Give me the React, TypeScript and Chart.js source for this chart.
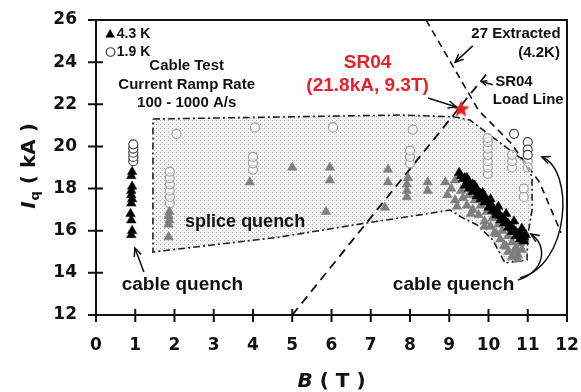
import React, { useEffect, useRef } from 'react';
import { Chart, registerables } from 'chart.js';

Chart.register(...registerables);

// ---------- axis ticks ----------
const xTicks = [0, 1, 2, 3, 4, 5, 6, 7, 8, 9, 10, 11, 12];
const yTicks = [12, 14, 16, 18, 20, 22, 24, 26];

// ---------- 4.3 K (black triangles) ----------
const k43B = [
  0.9, 0.92, 0.9, 0.88, 0.9, 0.92, 0.9, 0.9, 0.92, 0.9, 0.92,
  9.3, 9.35, 9.4, 9.45, 9.5, 9.55, 9.6, 9.65, 9.7, 9.75, 9.8, 9.85, 9.9, 9.95, 10.0, 10.05, 10.1,
  10.15, 10.2, 10.25, 10.3, 10.35, 10.4, 10.45, 10.5, 10.55, 10.6, 10.65, 10.7, 10.75, 10.8, 10.85,
  10.9, 10.95,
  9.4, 9.5, 9.6, 9.7, 9.8, 9.9, 10.0, 10.1, 10.2, 10.3, 10.4, 10.5, 10.6, 10.7, 10.8, 10.9,
  9.25, 9.45, 9.65, 9.85, 10.05, 10.25, 10.45, 10.65, 10.85,
];
const k43I = [
  15.8, 16.0, 16.5, 16.8, 17.3, 17.5, 17.7, 17.9, 18.1, 18.6, 18.8,
  18.6, 18.45, 18.5, 18.3, 18.35, 18.1, 18.2, 17.95, 18.0, 17.8, 17.75, 17.6, 17.65, 17.4, 17.35, 17.2, 17.15,
  17.0, 16.9, 16.85, 16.7, 16.6, 16.55, 16.4, 16.35, 16.2, 16.1, 16.05, 15.95, 15.85, 15.9, 15.75,
  15.7, 15.8,
  18.15, 18.0, 17.85, 17.65, 17.5, 17.35, 17.1, 16.95, 16.75, 16.5, 16.35, 16.15, 15.95, 15.75, 15.6, 15.5,
  18.75, 18.5, 18.15, 17.8, 17.5, 17.15, 16.8, 16.45, 16.1,
];

// ---------- gray triangles ----------
const grayB = [
  1.85, 1.85, 1.87, 1.85, 1.87, 3.92, 5.0, 5.96, 5.96, 5.86, 7.44, 7.44, 7.36, 7.92, 7.92, 7.92, 7.95, 8.45, 8.45,
  8.9, 9.05, 9.15, 8.95, 9.15, 9.3, 9.35, 9.45, 9.5, 9.6, 9.65, 9.75, 9.8, 9.9, 9.95, 10.05, 10.1, 10.15,
  10.25, 10.3, 10.35, 10.4, 10.5, 10.5, 10.6, 10.6, 10.7, 10.75, 10.8, 10.85,
  9.2, 9.55, 9.9, 10.2, 10.45, 10.65, 10.75,
];
const grayI = [
  15.7, 16.3, 16.5, 16.7, 16.9, 18.3, 19.0, 19.0, 18.4, 16.9, 18.9, 18.3, 17.1, 17.6, 17.9, 18.2, 18.5, 17.9, 18.3,
  18.3, 18.0, 18.4, 17.7, 17.45, 17.9, 17.55, 17.2, 17.7, 17.0, 17.45, 16.75, 17.2, 16.45, 16.9, 16.2, 16.6, 15.9,
  16.3, 15.6, 16.0, 15.3, 15.75, 15.0, 15.45, 14.75, 15.2, 14.85, 15.4, 15.1,
  17.15, 16.8, 16.2, 15.85, 15.25, 15.0, 14.65,
];

// ---------- 1.9 K (open circles) ----------
const k19B = [0.95, 0.95, 0.95, 0.95, 0.95, 10.65, 11.0, 11.0, 11.0];
const k19I = [19.3, 19.5, 19.7, 19.9, 20.1, 20.6, 20.2, 19.85, 19.6];
const k19FadedB = [
  1.88, 1.88, 1.88, 1.88, 1.88, 1.88, 2.05, 4.0, 4.0, 4.0, 4.05, 6.04, 8.07, 8.0, 8.0, 8.0,
  9.98, 9.98, 9.98, 9.98, 9.98, 9.98, 9.98, 10.6, 10.6, 10.6, 11.0, 11.0, 10.9, 10.9,
];
const k19FadedI = [
  17.3, 17.6, 17.9, 18.2, 18.5, 18.8, 20.6, 18.9, 19.2, 19.5, 20.9, 20.9, 20.8, 19.2, 19.5, 19.8,
  18.7, 19.0, 19.3, 19.6, 19.9, 20.2, 20.4, 19.0, 19.3, 19.6, 19.3, 19.0, 18.0, 17.6,
];

// ---------- SR04 point ----------
const sr04B = [9.3];
const sr04I = [21.8];

// ---------- splice quench region outline ----------
const regionB = [1.45, 7.75, 9.15, 9.53, 10.88, 11.11, 11.11, 11.01, 10.98, 10.42, 10.11, 9.71, 9.35, 9.02, 8.25, 6.9, 4.69, 1.45, 1.45];
const regionI = [21.3, 21.49, 21.4, 21.25, 19.36, 18.55, 16.98, 15.89, 14.61, 14.47, 15.56, 16.27, 16.6, 16.98, 16.75, 16.37, 15.7, 14.99, 21.3];

// ---------- 27 extracted (4.2K) line ----------
const extractedB = [8.41, 9.75, 10.55, 11.3, 11.85];
const extractedI = [26.0, 21.7, 20.2, 18.3, 15.9];

// ---------- SR04 load line ----------
const loadB = [5.0, 9.99];
const loadI = [12.0, 23.53];

const pts = (bs: number[], is: number[]) => bs.map((b, i) => ({ x: b, y: is[i] }));

const ARIAL = '"Liberation Sans", Arial, sans-serif';
const DEJAVU = '"DejaVu Sans", sans-serif';

function makeStar(): HTMLCanvasElement {
  const c = document.createElement('canvas');
  c.width = 20; c.height = 20;
  const g = c.getContext('2d')!;
  g.beginPath();
  for (let k = 0; k < 10; k++) {
    const r = k % 2 === 0 ? 9 : 3.8;
    const a = -Math.PI / 2 + (k * Math.PI) / 5;
    const px = 10 + r * Math.cos(a);
    const py = 10.8 + r * Math.sin(a);
    if (k === 0) g.moveTo(px, py); else g.lineTo(px, py);
  }
  g.closePath();
  g.fillStyle = '#ee1d25';
  g.fill();
  return c;
}

function makeStipple(): CanvasPattern | string {
  const c = document.createElement('canvas');
  c.width = 4; c.height = 4;
  const g = c.getContext('2d')!;
  g.fillStyle = '#f3f3f3';
  g.fillRect(0, 0, 4, 4);
  g.fillStyle = '#a8a8a8';
  g.fillRect(0, 0, 1, 1);
  g.fillStyle = '#cfcfcf';
  g.fillRect(2, 2, 1, 1);
  const p = g.createPattern(c, 'repeat');
  return p || '#eeeeee';
}

function arrowHead(ctx: CanvasRenderingContext2D, x: number, y: number, ang: number, len = 9, spread = 0.42) {
  ctx.beginPath();
  ctx.moveTo(x - len * Math.cos(ang - spread), y - len * Math.sin(ang - spread));
  ctx.lineTo(x, y);
  ctx.lineTo(x - len * Math.cos(ang + spread), y - len * Math.sin(ang + spread));
  ctx.stroke();
}

const decor = {
  id: 'decor',
  afterDraw(chart: any) {
    const { ctx, chartArea: a, scales } = chart;
    const xs = scales.x, ys = scales.y;
    const X = (b: number) => xs.getPixelForValue(b);
    const Y = (i: number) => ys.getPixelForValue(i);
    ctx.save();

    // frame
    ctx.strokeStyle = '#111';
    ctx.lineWidth = 2;
    ctx.setLineDash([]);
    ctx.strokeRect(a.left, a.top, a.right - a.left, a.bottom - a.top);
    // crossing tick marks
    ctx.beginPath();
    xTicks.forEach((v) => { const p = X(v); ctx.moveTo(p, a.bottom - 6); ctx.lineTo(p, a.bottom + 7); });
    yTicks.forEach((v) => { const p = Y(v); ctx.moveTo(a.left - 8, p); ctx.lineTo(a.left + 7, p); });
    ctx.stroke();

    const txt = (s: string, b: number, i: number, font: string, align: CanvasTextAlign = 'center', color = '#111') => {
      ctx.font = font;
      ctx.fillStyle = color;
      ctx.textAlign = align;
      ctx.textBaseline = 'middle';
      ctx.fillText(s, X(b), Y(i));
    };

    // legend
    const tx = X(0.36), ty = Y(25.34);
    ctx.fillStyle = '#000';
    ctx.beginPath();
    ctx.moveTo(tx, ty - 5); ctx.lineTo(tx + 4.8, ty + 3.6); ctx.lineTo(tx - 4.8, ty + 3.6); ctx.closePath();
    ctx.fill();
    ctx.beginPath();
    ctx.arc(X(0.37), Y(24.48), 4.3, 0, Math.PI * 2);
    ctx.lineWidth = 1.2;
    ctx.strokeStyle = '#444';
    ctx.stroke();
    txt('4.3 K', 0.53, 25.34, `bold 14px ${ARIAL}`, 'left');
    txt('1.9 K', 0.53, 24.48, `bold 14px ${ARIAL}`, 'left');

    // notes
    const f15 = `bold 15px ${ARIAL}`;
    txt('Cable Test', 2.31, 23.82, f15);
    txt('Current Ramp Rate', 2.31, 22.92, f15);
    txt('100 - 1000 A/s', 2.31, 22.06, f15);
    txt('SR04', 6.92, 23.96, `bold 19px ${ARIAL}`, 'center', '#e8202a');
    txt('(21.8kA, 9.3T)', 6.92, 22.89, `bold 19px ${ARIAL}`, 'center', '#e8202a');
    txt('27 Extracted', 10.7, 25.34, f15);
    txt('(4.2K)', 11.82, 24.43, f15, 'right');
    txt('SR04', 10.17, 23.06, f15, 'left');
    txt('Load Line', 10.11, 22.2, f15, 'left');
    txt('splice quench', 2.27, 16.43, `bold 18px ${ARIAL}`, 'left');
    txt('cable quench', 2.2, 13.42, `bold 19px ${ARIAL}`);
    txt('cable quench', 9.11, 13.42, `bold 19px ${ARIAL}`);

    // arrows
    ctx.strokeStyle = '#111';
    ctx.lineWidth = 1.5;
    ctx.setLineDash([]);
    const straight = (b0: number, i0: number, b1: number, i1: number, len = 9) => {
      const x0 = X(b0), y0 = Y(i0), x1 = X(b1), y1 = Y(i1);
      ctx.beginPath(); ctx.moveTo(x0, y0); ctx.lineTo(x1, y1); ctx.stroke();
      arrowHead(ctx, x1, y1, Math.atan2(y1 - y0, x1 - x0), len);
    };
    straight(8.46, 22.3, 9.18, 21.87);
    straight(9.6, 24.77, 9.15, 24.0);
    straight(10.11, 22.93, 9.82, 23.08, 6);
    straight(1.22, 14.04, 0.99, 15.18);
    const curve = (p: number[][]) => {
      const [s, c1, c2, e] = p.map(([b, i]) => [X(b), Y(i)]);
      ctx.beginPath(); ctx.moveTo(s[0], s[1]);
      ctx.bezierCurveTo(c1[0], c1[1], c2[0], c2[1], e[0], e[1]);
      ctx.stroke();
      arrowHead(ctx, e[0], e[1], Math.atan2(e[1] - c2[1], e[0] - c2[0]));
    };
    curve([[10.75, 13.66], [11.44, 14.04], [11.52, 15.32], [11.08, 15.84]]);
    curve([[10.8, 13.76], [12.08, 14.37], [12.2, 18.88], [11.36, 19.5]]);

    // axis titles
    ctx.fillStyle = '#111';
    ctx.textBaseline = 'alphabetic';
    ctx.textAlign = 'left';
    const fI = `italic bold 20px ${DEJAVU}`;
    const fSub = `bold 13px ${DEJAVU}`;
    const fR = `bold 20px ${DEJAVU}`;
    // y title
    ctx.save();
    ctx.translate(35, 166);
    ctx.rotate(-Math.PI / 2);
    ctx.font = fI; const wI = ctx.measureText('I').width;
    ctx.font = fSub; const wq = ctx.measureText('q').width;
    ctx.font = fR; const wr = ctx.measureText(' ( kA )').width;
    let cx = -(wI + wq + 1 + wr) / 2;
    ctx.font = fI; ctx.fillText('I', cx, 0); cx += wI + 1;
    ctx.font = fSub; ctx.fillText('q', cx, 4); cx += wq;
    ctx.font = fR; ctx.fillText(' ( kA )', cx, 0);
    ctx.restore();
    // x title
    ctx.font = fI; const wB = ctx.measureText('B').width;
    ctx.font = fR; const wT = ctx.measureText(' ( T )').width;
    let bx = (a.left + a.right) / 2 - (wB + wT) / 2;
    ctx.font = fI; ctx.fillText('B', bx, 387); bx += wB;
    ctx.font = fR; ctx.fillText(' ( T )', bx, 387);

    ctx.restore();
  },
};

export default function App() {
  const ref = useRef<HTMLCanvasElement | null>(null);
  useEffect(() => {
    document.body.style.margin = '0';
    const canvas = ref.current!;
    const tickFont = { family: DEJAVU, size: 17, weight: 'bold' as const };
    const chart = new Chart(canvas, {
      type: 'scatter',
      data: {
        datasets: [
          {
            type: 'line',
            label: 'splice region',
            data: pts(regionB, regionI),
            borderColor: '#222',
            borderWidth: 1.6,
            borderDash: [7, 3, 2, 3],
            backgroundColor: makeStipple() as any,
            fill: 'shape',
            pointRadius: 0,
            tension: 0,
            order: 10,
          } as any,
          {
            type: 'line',
            label: '27 Extracted',
            data: pts(extractedB, extractedI),
            borderColor: '#111',
            borderWidth: 1.6,
            borderDash: [7, 5],
            pointRadius: 0,
            fill: false,
            tension: 0,
            order: 9,
          } as any,
          {
            type: 'line',
            label: 'SR04 load line',
            data: pts(loadB, loadI),
            borderColor: '#111',
            borderWidth: 1.8,
            borderDash: [9, 6],
            pointRadius: 0,
            fill: false,
            order: 9,
          } as any,
          {
            label: '1.9 K faded',
            data: pts(k19FadedB, k19FadedI),
            pointStyle: 'circle',
            pointRadius: 4.5,
            borderColor: '#a0a0a0',
            backgroundColor: 'rgba(255,255,255,0.55)',
            borderWidth: 1.2,
            order: 8,
          },
          {
            label: 'gray',
            data: pts(grayB, grayI),
            pointStyle: 'triangle',
            pointRadius: 5.5,
            borderColor: '#7a7a7a',
            backgroundColor: '#7f7f7f',
            borderWidth: 0.5,
            order: 7,
          },
          {
            label: '1.9 K',
            data: pts(k19B, k19I),
            pointStyle: 'circle',
            pointRadius: 4.5,
            borderColor: '#444',
            backgroundColor: '#ffffff',
            borderWidth: 1.2,
            order: 6,
          },
          {
            label: '4.3 K',
            data: pts(k43B, k43I),
            pointStyle: 'triangle',
            pointRadius: 5.5,
            borderColor: '#000',
            backgroundColor: '#000',
            borderWidth: 0.5,
            order: 5,
          },
          {
            label: 'SR04',
            data: pts(sr04B, sr04I),
            pointStyle: makeStar() as any,
            pointRadius: 9,
            order: 0,
          },
        ],
      },
      options: {
        responsive: false,
        animation: false,
        devicePixelRatio: 1,
        layout: { padding: { left: 0, top: 20, right: 14, bottom: 0 } },
        plugins: {
          legend: { display: false },
          tooltip: { enabled: false },
        },
        scales: {
          x: {
            type: 'linear',
            min: 0,
            max: 12,
            afterBuildTicks: (s: any) => { s.ticks = xTicks.map((v) => ({ value: v })); },
            afterFit: (s: any) => { s.height = 77; s.paddingLeft = 0; s.paddingRight = 0; },
            ticks: { font: tickFont, color: '#111', padding: 20, maxRotation: 0, autoSkip: false },
            grid: { display: false, drawTicks: false },
            border: { display: false },
          },
          y: {
            type: 'linear',
            min: 12,
            max: 26,
            afterBuildTicks: (s: any) => { s.ticks = yTicks.map((v) => ({ value: v })); },
            afterFit: (s: any) => { s.width = 96; s.paddingTop = 0; s.paddingBottom = 0; },
            ticks: { font: tickFont, color: '#111', padding: 19, autoSkip: false },
            grid: { display: false, drawTicks: false },
            border: { display: false },
          },
        },
      } as any,
      plugins: [decor],
    });
    return () => chart.destroy();
  }, []);
  return <canvas ref={ref} width={581} height={392} style={{ display: 'block' }} />;
}
